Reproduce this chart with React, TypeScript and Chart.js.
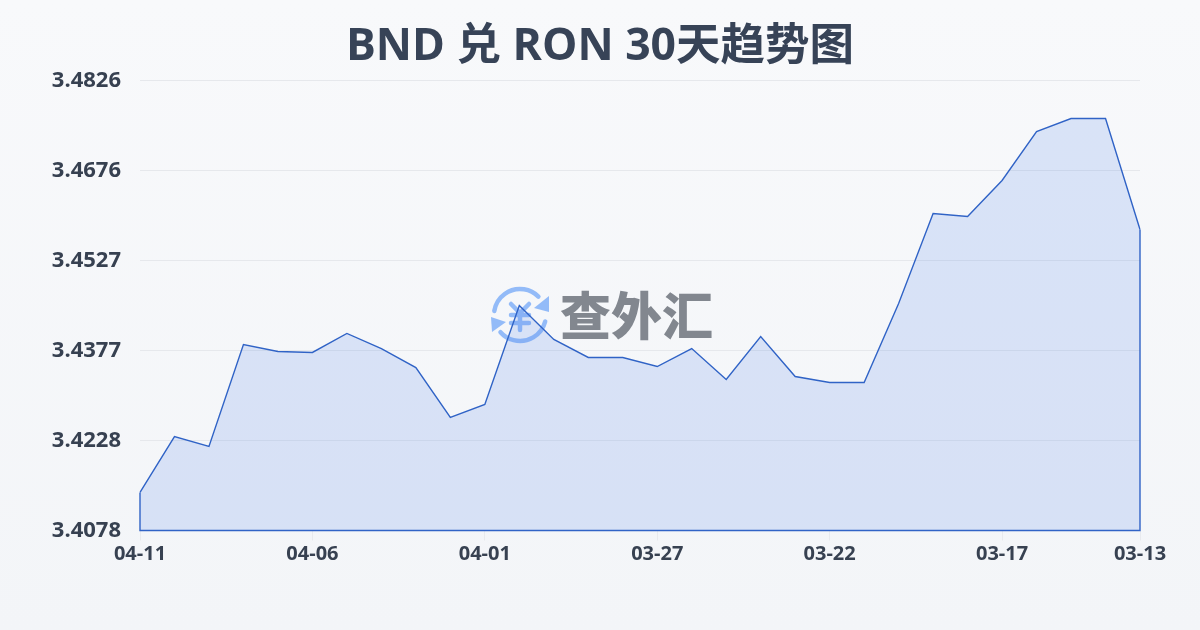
import React, { useEffect, useRef } from "react";
import { Chart, registerables } from "chart.js";

Chart.register(...registerables);

const categories = ["04-11","04-10","04-09","04-08","04-07","04-06","04-05","04-04","04-03","04-02","04-01","03-31","03-30","03-29","03-28","03-27","03-26","03-25","03-24","03-23","03-22","03-21","03-20","03-19","03-18","03-17","03-16","03-15","03-14","03-13"];
const rates = [3.41412,3.42342,3.42176,3.43872,3.43755,3.43739,3.44055,3.43805,3.43489,3.42658,3.42874,3.4452,3.43955,3.43656,3.43656,3.43506,3.43805,3.4329,3.44005,3.4334,3.4324,3.4324,3.44553,3.46049,3.45999,3.46598,3.47412,3.47628,3.47628,3.45783];
const xTickLabels = ["04-11","04-06","04-01","03-27","03-22","03-17","03-13"];
const yTickValues = [3.4078,3.4228,3.4377,3.4527,3.4676,3.4826];
const titleText = "BND 兑 RON 30天趋势图";
const watermarkText = "查外汇";

const LATIN = '"Open Sans", "Noto Sans CJK SC", sans-serif';
const CJK = '"Noto Sans CJK SC", "Noto Sans", sans-serif';

const watermark = {
  id: "watermark",
  beforeDatasetsDraw(chart: any) {
    const { ctx } = chart;
    ctx.save();
    const cx = 520, cy = 315, r = 26;
    const blue = "#93bbf8";
    ctx.strokeStyle = blue;
    ctx.fillStyle = blue;
    ctx.lineCap = "round";
    ctx.lineWidth = 4.5;
    ctx.beginPath();
    ctx.arc(cx, cy, r, Math.PI * 1.05, Math.PI * 1.75);
    ctx.stroke();
    ctx.beginPath();
    ctx.arc(cx, cy, r, Math.PI * 0.08, Math.PI * 0.77);
    ctx.stroke();
    ctx.beginPath();
    ctx.moveTo(549, 296);
    ctx.lineTo(549, 312);
    ctx.lineTo(534, 308);
    ctx.closePath();
    ctx.fill();
    ctx.beginPath();
    ctx.moveTo(491, 317);
    ctx.lineTo(506, 322);
    ctx.lineTo(492, 332);
    ctx.closePath();
    ctx.fill();
    ctx.lineWidth = 4.5;
    ctx.beginPath();
    ctx.moveTo(511, 304);
    ctx.lineTo(520, 313);
    ctx.lineTo(529, 304);
    ctx.moveTo(520, 313);
    ctx.lineTo(520, 330);
    ctx.moveTo(511, 315);
    ctx.lineTo(529, 315);
    ctx.moveTo(511, 323);
    ctx.lineTo(529, 323);
    ctx.stroke();
    ctx.fillStyle = "#82878f";
    ctx.font = `900 51px ${CJK}`;
    ctx.textAlign = "left";
    ctx.textBaseline = "middle";
    ctx.fillText(watermarkText, 560, 316);
    ctx.restore();
  },
};

const closeArea = {
  id: "closeArea",
  afterDatasetsDraw(chart: any) {
    const { ctx, scales } = chart;
    const last = rates.length - 1;
    const base = scales.y.getPixelForValue(scales.y.min);
    ctx.save();
    ctx.strokeStyle = "#3063c6";
    ctx.lineWidth = 1.4;
    ctx.beginPath();
    ctx.moveTo(scales.x.getPixelForValue(0), scales.y.getPixelForValue(rates[0]));
    ctx.lineTo(scales.x.getPixelForValue(0), base);
    ctx.lineTo(scales.x.getPixelForValue(last), base);
    ctx.lineTo(scales.x.getPixelForValue(last), scales.y.getPixelForValue(rates[last]));
    ctx.stroke();
    ctx.restore();
  },
};

export default function App() {
  const ref = useRef<HTMLCanvasElement>(null);
  useEffect(() => {
    document.body.style.margin = "0";
    const chart = new Chart(ref.current as HTMLCanvasElement, {
      type: "line",
      data: {
        labels: categories,
        datasets: [
          {
            data: rates,
            yAxisID: "y",
            borderColor: "#3063c6",
            borderWidth: 1.4,
            backgroundColor: "rgba(88,136,232,0.19)",
            fill: "start",
            pointRadius: 0,
            tension: 0,
          },
        ],
      },
      plugins: [watermark, closeArea],
      options: {
        responsive: false,
        animation: false,
        layout: { padding: { left: 0, right: 0, top: 0.5, bottom: 0 } },
        plugins: {
          legend: { display: false },
          tooltip: { enabled: false },
          title: {
            display: true,
            text: titleText,
            color: "#374357",
            font: { family: LATIN, size: 44.5, weight: "bold" },
            padding: { top: 20, bottom: 6.6 },
          },
        },
        scales: {
          x: {
            offset: false,
            border: { display: false },
            grid: { drawOnChartArea: false, drawTicks: true, tickLength: 10, color: "#e8eaee" },
            ticks: {
              autoSkip: false,
              maxRotation: 0,
              minRotation: 0,
              padding: 2,
              color: "#374151",
              font: { family: LATIN, size: 20, weight: "bold" },
            },
            afterBuildTicks(scale: any) {
              scale.ticks = scale.ticks.filter((t: any) => xTickLabels.includes(categories[t.value]));
            },
            afterFit(scale: any) {
              scale.height = 99.5;
            },
          },
          y: {
            position: "left",
            min: yTickValues[0],
            max: yTickValues[yTickValues.length - 1],
            border: { display: false },
            grid: { color: "#e6e8ec", tickLength: 0 },
            ticks: {
              padding: 19,
              color: "#374151",
              font: { family: LATIN, size: 22, weight: "bold" },
              callback: (v: any) => Number(v).toFixed(4),
            },
            afterBuildTicks(scale: any) {
              scale.ticks = yTickValues.map((value) => ({ value }));
            },
            afterFit(scale: any) {
              scale.width = 140;
            },
          },
          rightGutter: {
            axis: "y",
            position: "right",
            border: { display: false },
            grid: { display: false },
            ticks: { display: false },
            afterFit(scale: any) {
              scale.width = 60;
            },
          },
        },
      },
    } as any);
    return () => chart.destroy();
  }, []);
  return (
    <div style={{ width: 1200, height: 630, background: "linear-gradient(180deg, #f8f9fb 0%, #f3f5f8 100%)" }}>
      <canvas ref={ref} width={1200} height={630} style={{ display: "block" }} />
    </div>
  );
}
